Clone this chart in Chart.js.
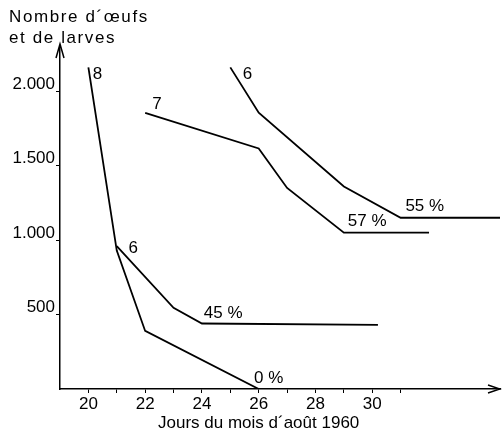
<!DOCTYPE html>
<html>
<head>
<meta charset="utf-8">
<script src="https://cdn.jsdelivr.net/npm/chart.js@4"></script>
<style>
  html, body { margin: 0; padding: 0; background: #fff; }
  canvas { display: block; }
</style>
</head>
<body>
<canvas id="chart" width="502" height="436"></canvas>
<script>
// courbes (jour d'août, nombre)
const jours8 = [20, 21, 22, 26];
const valeurs8 = [2160, 930, 390, 0];

const jours6a = [21, 23, 24, 30.2];
const valeurs6a = [960, 545, 440, 430];

const jours7 = [22, 26, 27, 29, 32];
const valeurs7 = [1855, 1615, 1350, 1050, 1050];

const jours6b = [25, 26, 29, 31, 34.5];
const valeurs6b = [2160, 1855, 1360, 1150, 1150];

// étiquettes posées sur les courbes
const etiquettes = ["8", "6", "45 %", "0 %", "7", "6", "57 %", "55 %"];
const etiqX = [20.32, 21.58, 24.75, 26.35, 22.42, 25.6, 29.82, 31.85];
const etiqY = [2110, 945, 510, 75, 1910, 2115, 1125, 1225];

const xTicks = [20, 21, 22, 23, 24, 25, 26, 27, 28, 29, 30, 31];
const xTicksAffiches = [20, 22, 24, 26, 28, 30];
const yTicks = [500, 1000, 1500, 2000];

const police = "'Liberation Sans', Arial, sans-serif";

function points(xs, ys) {
  return xs.map((x, i) => ({ x: x, y: ys[i] }));
}

function serie(xs, ys) {
  return {
    data: points(xs, ys),
    borderColor: "#000",
    borderWidth: 1.8,
    pointRadius: 0,
    tension: 0,
    fill: false,
  };
}

function formatMilliers(v) {
  return String(v).replace(/\B(?=(\d{3})+(?!\d))/g, ".");
}

// textes, flèches des axes
const decor = {
  id: "decor",
  afterDraw(chart) {
    const ctx = chart.ctx;
    const x = chart.scales.x;
    const y = chart.scales.y;
    const a = chart.chartArea;
    ctx.save();
    ctx.fillStyle = "#000";
    ctx.font = "17px " + police;
    ctx.textAlign = "center";
    ctx.textBaseline = "middle";
    etiquettes.forEach((t, i) => {
      ctx.fillText(t, x.getPixelForValue(etiqX[i]), y.getPixelForValue(etiqY[i]));
    });

    ctx.textAlign = "left";
    ctx.fillText("Jours du mois d\u00b4ao\u00fbt 1960", 158, 423);
    ctx.letterSpacing = "1.6px";
    ctx.fillText("Nombre d\u00b4\u0153ufs", 9, 17);
    ctx.fillText("et de larves", 9, 38);
    ctx.letterSpacing = "0px";

    // flèches
    ctx.strokeStyle = "#000";
    ctx.lineWidth = 1.5;
    ctx.beginPath();
    ctx.moveTo(a.left, a.top);
    ctx.lineTo(a.left, a.top - 4);
    ctx.moveTo(a.left - 4, a.top + 10);
    ctx.lineTo(a.left, a.top - 4);
    ctx.lineTo(a.left + 4, a.top + 10);
    ctx.moveTo(a.right - 12, a.bottom - 4);
    ctx.lineTo(a.right, a.bottom);
    ctx.lineTo(a.right - 12, a.bottom + 4);
    ctx.stroke();
    ctx.restore();
  },
};

new Chart(document.getElementById("chart"), {
  type: "line",
  data: {
    datasets: [
      serie(jours8, valeurs8),
      serie(jours6a, valeurs6a),
      serie(jours7, valeurs7),
      serie(jours6b, valeurs6b),
    ],
  },
  options: {
    responsive: false,
    animation: false,
    layout: { padding: { top: 48, right: 2, left: 0, bottom: 0 } },
    plugins: {
      legend: { display: false },
      tooltip: { enabled: false },
    },
    scales: {
      x: {
        type: "linear",
        min: 19,
        max: 34.5,
        afterBuildTicks: (s) => { s.ticks = xTicks.map((v) => ({ value: v })); },
        afterFit: (s) => { s.height = 47; },
        border: { color: "#000", width: 1.5 },
        grid: { drawOnChartArea: false, tickLength: 4, color: "#000" },
        ticks: {
          autoSkip: false,
          maxRotation: 0,
          padding: 1,
          color: "#000",
          font: { family: police, size: 17 },
          callback: (v) => (xTicksAffiches.includes(Number(v)) ? String(v) : ""),
        },
      },
      y: {
        type: "linear",
        min: 0,
        max: 2290,
        afterBuildTicks: (s) => { s.ticks = yTicks.map((v) => ({ value: v })); },
        afterFit: (s) => { s.width = 60; },
        border: { color: "#000", width: 1.5 },
        grid: { drawOnChartArea: false, tickLength: 4, color: "#000" },
        ticks: {
          autoSkip: false,
          padding: 1,
          labelOffset: -7,
          color: "#000",
          font: { family: police, size: 17 },
          callback: (v) => formatMilliers(Number(v)),
        },
      },
    },
  },
  plugins: [decor],
});
</script>
</body>
</html>
